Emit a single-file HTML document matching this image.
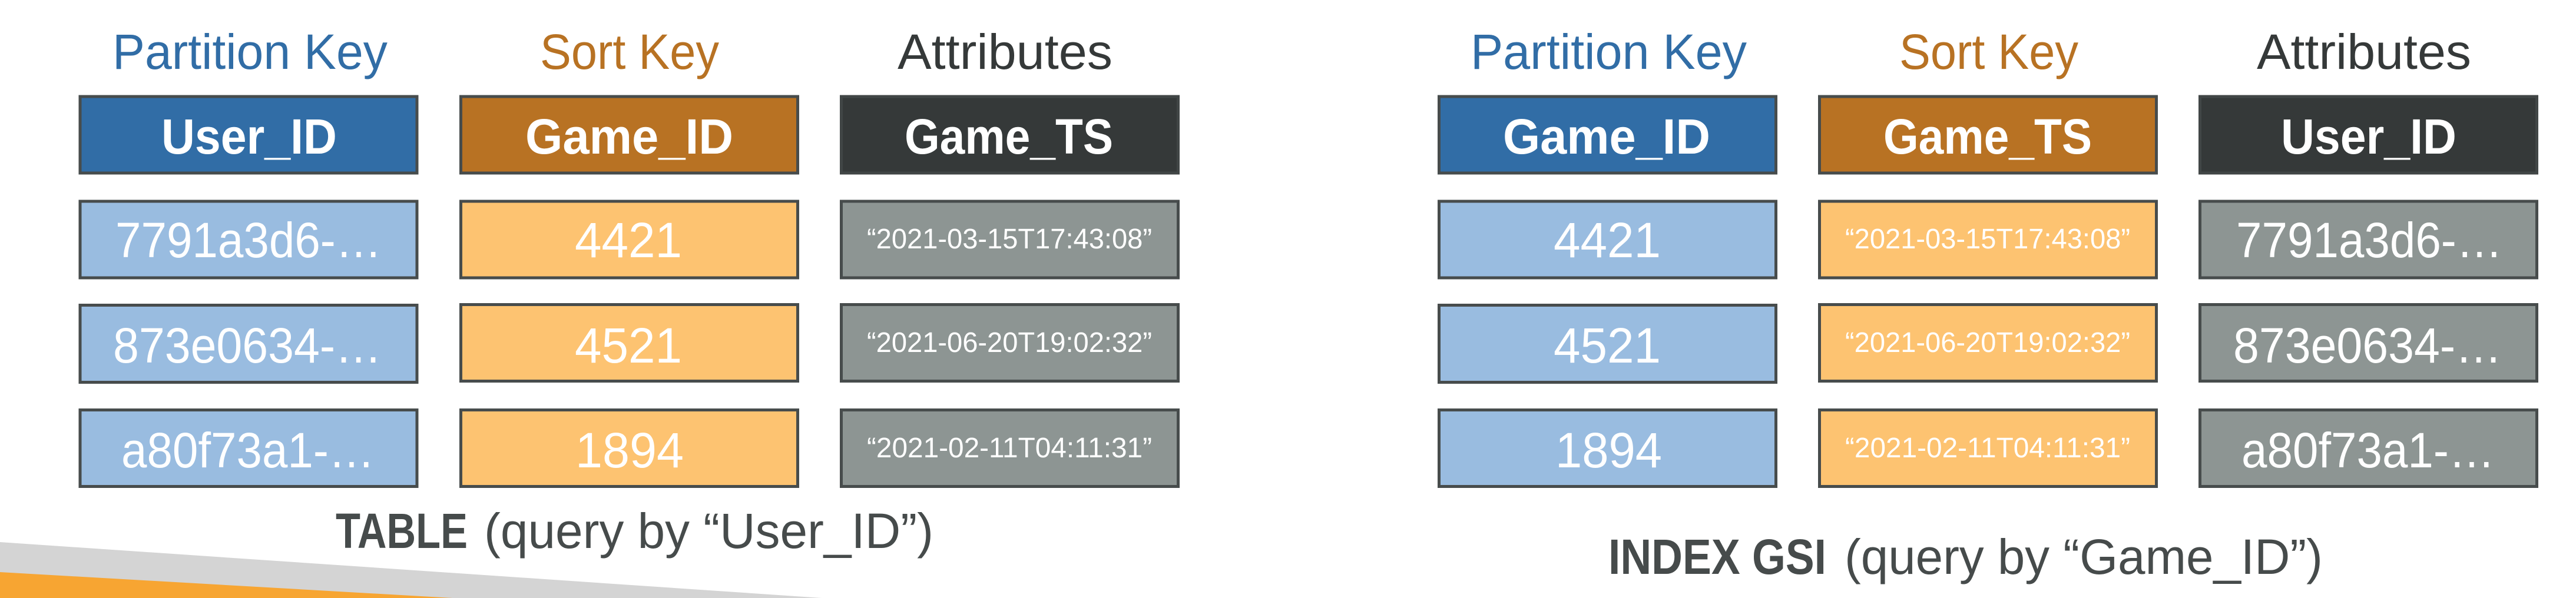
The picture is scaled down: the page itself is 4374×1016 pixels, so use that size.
<!DOCTYPE html>
<html lang="en">
<head>
<meta charset="utf-8">
<title>DynamoDB table and GSI</title>
<style>
html,body{margin:0;padding:0;background:#fff;width:4374px;height:1016px;overflow:hidden}
svg{display:block}
text{font-family:"Liberation Sans",sans-serif;font-size:84px}
.b{font-weight:700}
.w{fill:#fff}
.ts{font-size:48px}
.cap{fill:#464b4b}
.blue{fill:#316da6}.brown{fill:#b87223}.dark{fill:#353939}
.lb{fill:#99bce0}.lo{fill:#fdc371}.gr{fill:#8d9593}
rect{stroke:#474c4c;stroke-width:5}
rect.dark{stroke:#414646}
</style>
</head>
<body>
<svg xmlns="http://www.w3.org/2000/svg" width="4374" height="1016" viewBox="0 0 4374 1016">
<polygon points="0,921 1395,1016 0,1016" fill="#d4d4d4"/>
<polygon points="0,972 768,1016 0,1016" fill="#f7a532"/>

<g>
<text x="191" y="117" textLength="467" lengthAdjust="spacingAndGlyphs" class="blue">Partition Key</text>
<text x="917" y="117" textLength="304" lengthAdjust="spacingAndGlyphs" class="brown">Sort Key</text>
<text x="1524" y="117" textLength="365" lengthAdjust="spacingAndGlyphs" class="dark">Attributes</text>

<g><rect x="136" y="164" width="572" height="130" class="blue"/><text x="274" y="261" textLength="298" lengthAdjust="spacingAndGlyphs" class="b w">User_ID</text></g>
<g><rect x="782.500" y="164" width="572" height="130" class="brown"/><text x="892" y="261" textLength="353" lengthAdjust="spacingAndGlyphs" class="b w">Game_ID</text></g>
<g><rect x="1428.500" y="164" width="572" height="130" class="dark"/><text x="1536" y="261" textLength="354" lengthAdjust="spacingAndGlyphs" class="b w">Game_TS</text></g>

<g><rect x="136" y="342" width="572" height="130" class="lb"/><text x="196" y="437" textLength="452" lengthAdjust="spacingAndGlyphs" class="w">7791a3d6-…</text></g>
<g><rect x="782.500" y="342" width="572" height="130" class="lo"/><text x="976" y="437" textLength="182" lengthAdjust="spacingAndGlyphs" class="w">4421</text></g>
<g><rect x="1428.500" y="342" width="572" height="130" class="gr"/><text x="1472" y="422" textLength="484" lengthAdjust="spacingAndGlyphs" class="w ts">“2021-03-15T17:43:08”</text></g>

<g><rect x="136" y="518.500" width="572" height="131" class="lb"/><text x="192" y="616" textLength="456" lengthAdjust="spacingAndGlyphs" class="w">873e0634-…</text></g>
<g><rect x="782.500" y="517.500" width="572" height="130" class="lo"/><text x="976" y="616" textLength="182" lengthAdjust="spacingAndGlyphs" class="w">4521</text></g>
<g><rect x="1428.500" y="517.500" width="572" height="130" class="gr"/><text x="1472" y="598" textLength="484" lengthAdjust="spacingAndGlyphs" class="w ts">“2021-06-20T19:02:32”</text></g>

<g><rect x="136" y="696.500" width="572" height="130" class="lb"/><text x="206" y="794" textLength="430" lengthAdjust="spacingAndGlyphs" class="w">a80f73a1-…</text></g>
<g><rect x="782.500" y="696.500" width="572" height="130" class="lo"/><text x="977" y="794" textLength="184" lengthAdjust="spacingAndGlyphs" class="w">1894</text></g>
<g><rect x="1428.500" y="696.500" width="572" height="130" class="gr"/><text x="1472" y="777" textLength="484" lengthAdjust="spacingAndGlyphs" class="w ts">“2021-02-11T04:11:31”</text></g>

<text y="931" class="cap"><tspan x="570" textLength="224" lengthAdjust="spacingAndGlyphs" class="b">TABLE</tspan><tspan x="822" textLength="763" lengthAdjust="spacingAndGlyphs">(query by “User_ID”)</tspan></text>
</g>

<g>
<text x="2497" y="117" textLength="469" lengthAdjust="spacingAndGlyphs" class="blue">Partition Key</text>
<text x="3225" y="117" textLength="304" lengthAdjust="spacingAndGlyphs" class="brown">Sort Key</text>
<text x="3832" y="117" textLength="364" lengthAdjust="spacingAndGlyphs" class="dark">Attributes</text>

<g><rect x="2443.500" y="164" width="572" height="130" class="blue"/><text x="2552" y="261" textLength="352" lengthAdjust="spacingAndGlyphs" class="b w">Game_ID</text></g>
<g><rect x="3089.500" y="164" width="572" height="130" class="brown"/><text x="3198" y="261" textLength="354" lengthAdjust="spacingAndGlyphs" class="b w">Game_TS</text></g>
<g><rect x="3735.500" y="164" width="572" height="130" class="dark"/><text x="3873" y="261" textLength="298" lengthAdjust="spacingAndGlyphs" class="b w">User_ID</text></g>

<g><rect x="2443.500" y="342" width="572" height="130" class="lb"/><text x="2638" y="437" textLength="182" lengthAdjust="spacingAndGlyphs" class="w">4421</text></g>
<g><rect x="3089.500" y="342" width="572" height="130" class="lo"/><text x="3133" y="422" textLength="484" lengthAdjust="spacingAndGlyphs" class="w ts">“2021-03-15T17:43:08”</text></g>
<g><rect x="3735.500" y="342" width="572" height="130" class="gr"/><text x="3797" y="437" textLength="452" lengthAdjust="spacingAndGlyphs" class="w">7791a3d6-…</text></g>

<g><rect x="2443.500" y="518.500" width="572" height="131" class="lb"/><text x="2638" y="616" textLength="182" lengthAdjust="spacingAndGlyphs" class="w">4521</text></g>
<g><rect x="3089.500" y="517.500" width="572" height="130" class="lo"/><text x="3133" y="598" textLength="484" lengthAdjust="spacingAndGlyphs" class="w ts">“2021-06-20T19:02:32”</text></g>
<g><rect x="3735.500" y="517.500" width="572" height="130" class="gr"/><text x="3792" y="616" textLength="456" lengthAdjust="spacingAndGlyphs" class="w">873e0634-…</text></g>

<g><rect x="2443.500" y="696.500" width="572" height="130" class="lb"/><text x="2641" y="794" textLength="181" lengthAdjust="spacingAndGlyphs" class="w">1894</text></g>
<g><rect x="3089.500" y="696.500" width="572" height="130" class="lo"/><text x="3133" y="777" textLength="484" lengthAdjust="spacingAndGlyphs" class="w ts">“2021-02-11T04:11:31”</text></g>
<g><rect x="3735.500" y="696.500" width="572" height="130" class="gr"/><text x="3806" y="794" textLength="430" lengthAdjust="spacingAndGlyphs" class="w">a80f73a1-…</text></g>

<text y="975" class="cap"><tspan x="2731" textLength="370" lengthAdjust="spacingAndGlyphs" class="b">INDEX GSI</tspan><tspan x="3132" textLength="812" lengthAdjust="spacingAndGlyphs">(query by “Game_ID”)</tspan></text>
</g>
</svg>
</body>
</html>
